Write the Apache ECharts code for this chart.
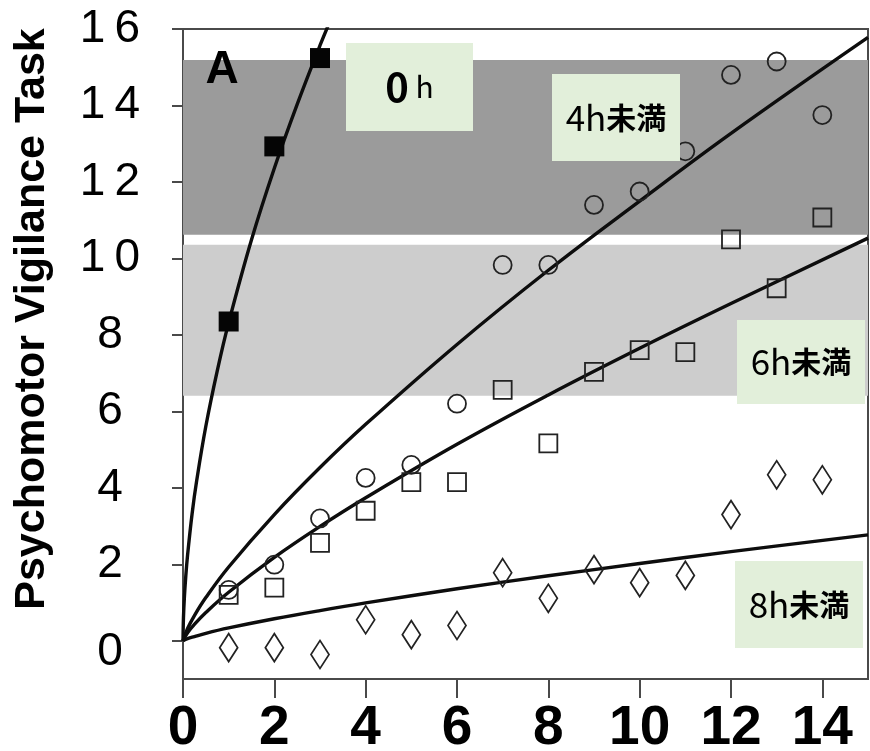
<!DOCTYPE html>
<html>
<head>
<meta charset="utf-8">
<script src="https://cdn.jsdelivr.net/npm/echarts@6/dist/echarts.min.js"></script>
<style>
  html, body { margin: 0; padding: 0; background: #fff; }
  #chart { width: 870px; height: 751px; }
</style>
</head>
<body>
<div id="chart"></div>
<script>
// Days of restricted sleep (x) and PVT lapses (y)
const days = [1, 2, 3, 4, 5, 6, 7, 8, 9, 10, 11, 12, 13, 14];
const days0h = [1, 2, 3];

// Observed values per sleep condition
const lapses0h = [8.35, 12.93, 15.24];
const lapses4h = [1.33, 1.99, 3.2, 4.26, 4.6, 6.2, 9.83, 9.83, 11.4, 11.75, 12.8, 14.8, 15.15, 13.75];
const lapses6h = [1.2, 1.39, 2.56, 3.4, 4.15, 4.15, 6.56, 5.16, 7.03, 7.6, 7.55, 10.5, 9.22, 11.07];
const lapses8h = [-0.18, -0.18, -0.36, 0.55, 0.16, 0.4, 1.78, 1.11, 1.86, 1.52, 1.71, 3.3, 4.34, 4.21];

// Fitted trend curves
const trendX0h = [0, 0.01, 0.03, 0.06, 0.1, 0.2, 0.3, 0.5, 0.75, 1, 1.5, 2, 2.5, 3, 3.3];
const trend0h = [0, 0.6, 1.13, 1.67, 2.24, 3.33, 4.19, 5.61, 7.06, 8.32, 10.49, 12.36, 14.03, 15.57, 16.43];
const trendX = [0, 0.1, 0.25, 0.5, 1, 2, 3, 4, 6, 8, 10, 12, 15];
const trend4h = [0, 0.32, 0.66, 1.13, 1.93, 3.3, 4.53, 5.66, 7.75, 9.69, 11.5, 13.27, 15.78];
const trend6h = [0, 0.21, 0.43, 0.74, 1.27, 2.18, 2.99, 3.74, 5.14, 6.43, 7.65, 8.82, 10.53];
const trend8h = [0, 0.056, 0.11, 0.195, 0.335, 0.575, 0.79, 0.99, 1.36, 1.7, 2.02, 2.33, 2.77];

// Axis ticks
const xTicks = [0, 2, 4, 6, 8, 10, 12, 14];
const yTicks = [0, 2, 4, 6, 8, 10, 12, 14, 16];

// Shaded bands
const bandDark = [10.62, 15.19];
const bandLight = [6.41, 10.36];

const pair = (xs, ys) => xs.map((x, i) => [x, ys[i]]);

const chart = echarts.init(document.getElementById('chart'), null, { renderer: 'canvas' });

const axisGrey = '#4a4a4a';
const markerStroke = '#222';
const lineCommon = {
  type: 'line',
  showSymbol: false,
  smooth: 0.4,
  lineStyle: { color: '#0d0d0d', width: 3.4 },
  z: 3,
  silent: true
};
const openMarker = {
  type: 'scatter',
  itemStyle: { color: 'rgba(0,0,0,0)', borderColor: markerStroke, borderWidth: 1.8, opacity: 1 },
  z: 4,
  silent: true
};

const boxFill = '#e2efda';
const labelFont = '"Noto Sans CJK JP", "Noto Sans", sans-serif';
function tagBox(x, y, w, h, text, rich) {
  return {
    type: 'rect',
    shape: { x: x, y: y, width: w, height: h },
    style: { fill: boxFill },
    z: 10,
    textContent: { style: { text: text, rich: rich, fill: '#000' }, z: 11 },
    textConfig: { position: 'inside' }
  };
}
const sleepRich = {
  n: { fontFamily: labelFont, fontSize: 35, fontWeight: 'normal', fill: '#000' },
  k: { fontFamily: labelFont, fontSize: 30, fontWeight: 'bold', fill: '#000' }
};

chart.setOption({
  animation: false,
  backgroundColor: '#fff',
  grid: {
    left: 183, right: 2, top: 29, bottom: 72,
    show: true, borderColor: axisGrey, borderWidth: 2,
    outerBoundsMode: 'none'
  },
  xAxis: {
    type: 'value',
    min: 0, max: 15,
    axisLine: { show: true, onZero: false, lineStyle: { color: axisGrey, width: 2 } },
    axisTick: { show: true, customValues: xTicks, length: 19, lineStyle: { color: axisGrey, width: 2 } },
    axisLabel: {
      customValues: xTicks, margin: 22,
      fontFamily: '"Liberation Sans", Arial, sans-serif',
      fontSize: 55, fontWeight: 'bold', color: '#000'
    },
    splitLine: { show: false }
  },
  yAxis: {
    type: 'value',
    min: -1, max: 16,
    axisLine: { show: true, onZero: false, lineStyle: { color: axisGrey, width: 2 } },
    axisTick: { show: true, customValues: yTicks, length: 11, lineStyle: { color: axisGrey, width: 2 } },
    axisLabel: {
      customValues: yTicks,
      margin: 73, align: 'center',
      fontFamily: '"Liberation Sans", Arial, sans-serif',
      fontSize: 46, color: '#000',
      formatter: function (v) {
        if (v === 0) return '{z|0}';
        return String(v).split('').join('\u2009');
      },
      rich: {
        z: { fontFamily: '"Liberation Sans", Arial, sans-serif', fontSize: 46, color: '#000', padding: [24, 0, 0, 0] }
      }
    },
    splitLine: { show: false }
  },
  series: [
    Object.assign({}, lineCommon, {
      name: '8h fit',
      data: pair(trendX, trend8h),
      markArea: {
        silent: true,
        data: [
          [{ yAxis: bandDark[0], itemStyle: { color: '#9b9b9b' } }, { yAxis: bandDark[1] }],
          [{ yAxis: bandLight[0], itemStyle: { color: '#cdcdcd' } }, { yAxis: bandLight[1] }]
        ]
      }
    }),
    Object.assign({}, lineCommon, { name: '6h fit', data: pair(trendX, trend6h) }),
    Object.assign({}, lineCommon, { name: '4h fit', data: pair(trendX, trend4h) }),
    Object.assign({}, lineCommon, { name: '0h fit', data: pair(trendX0h, trend0h) }),
    {
      type: 'scatter', name: '0h',
      symbol: 'rect', symbolSize: 20,
      itemStyle: { color: '#050505', opacity: 1 },
      z: 4, silent: true,
      data: pair(days0h, lapses0h)
    },
    Object.assign({}, openMarker, { name: '4h', symbol: 'circle', symbolSize: 18, data: pair(days, lapses4h) }),
    Object.assign({}, openMarker, { name: '6h', symbol: 'rect', symbolSize: 18, data: pair(days, lapses6h) }),
    Object.assign({}, openMarker, {
      name: '8h',
      symbol: 'path://M0,-1 L0.62,0 L0,1 L-0.62,0 Z',
      symbolSize: [18, 28],
      symbolKeepAspect: false,
      data: pair(days, lapses8h)
    })
  ],
  graphic: [
    {
      type: 'text', x: 32, y: 319, rotation: Math.PI / 2,
      style: {
        text: 'Psychomotor Vigilance Task',
        font: 'bold 43px "Liberation Sans", Arial, sans-serif',
        fill: '#000', textAlign: 'center', textVerticalAlign: 'middle'
      },
      z: 12
    },
    {
      type: 'text', x: 222, y: 70,
      style: {
        text: 'A',
        font: 'bold 46px "Liberation Sans", Arial, sans-serif',
        fill: '#000', textAlign: 'center', textVerticalAlign: 'middle'
      },
      z: 12
    },
    tagBox(346, 43, 127, 88, '{a|0}{b| h}', {
      a: { fontFamily: labelFont, fontSize: 40, fontWeight: 'bold', fill: '#000' },
      b: { fontFamily: labelFont, fontSize: 30, fontWeight: 'normal', fill: '#000' }
    }),
    tagBox(552, 74, 128, 87, '{n|4h}{k|未満}', sleepRich),
    tagBox(737, 320, 128, 84, '{n|6h}{k|未満}', sleepRich),
    tagBox(735, 561, 128, 87, '{n|8h}{k|未満}', sleepRich)
  ]
});
</script>
</body>
</html>
